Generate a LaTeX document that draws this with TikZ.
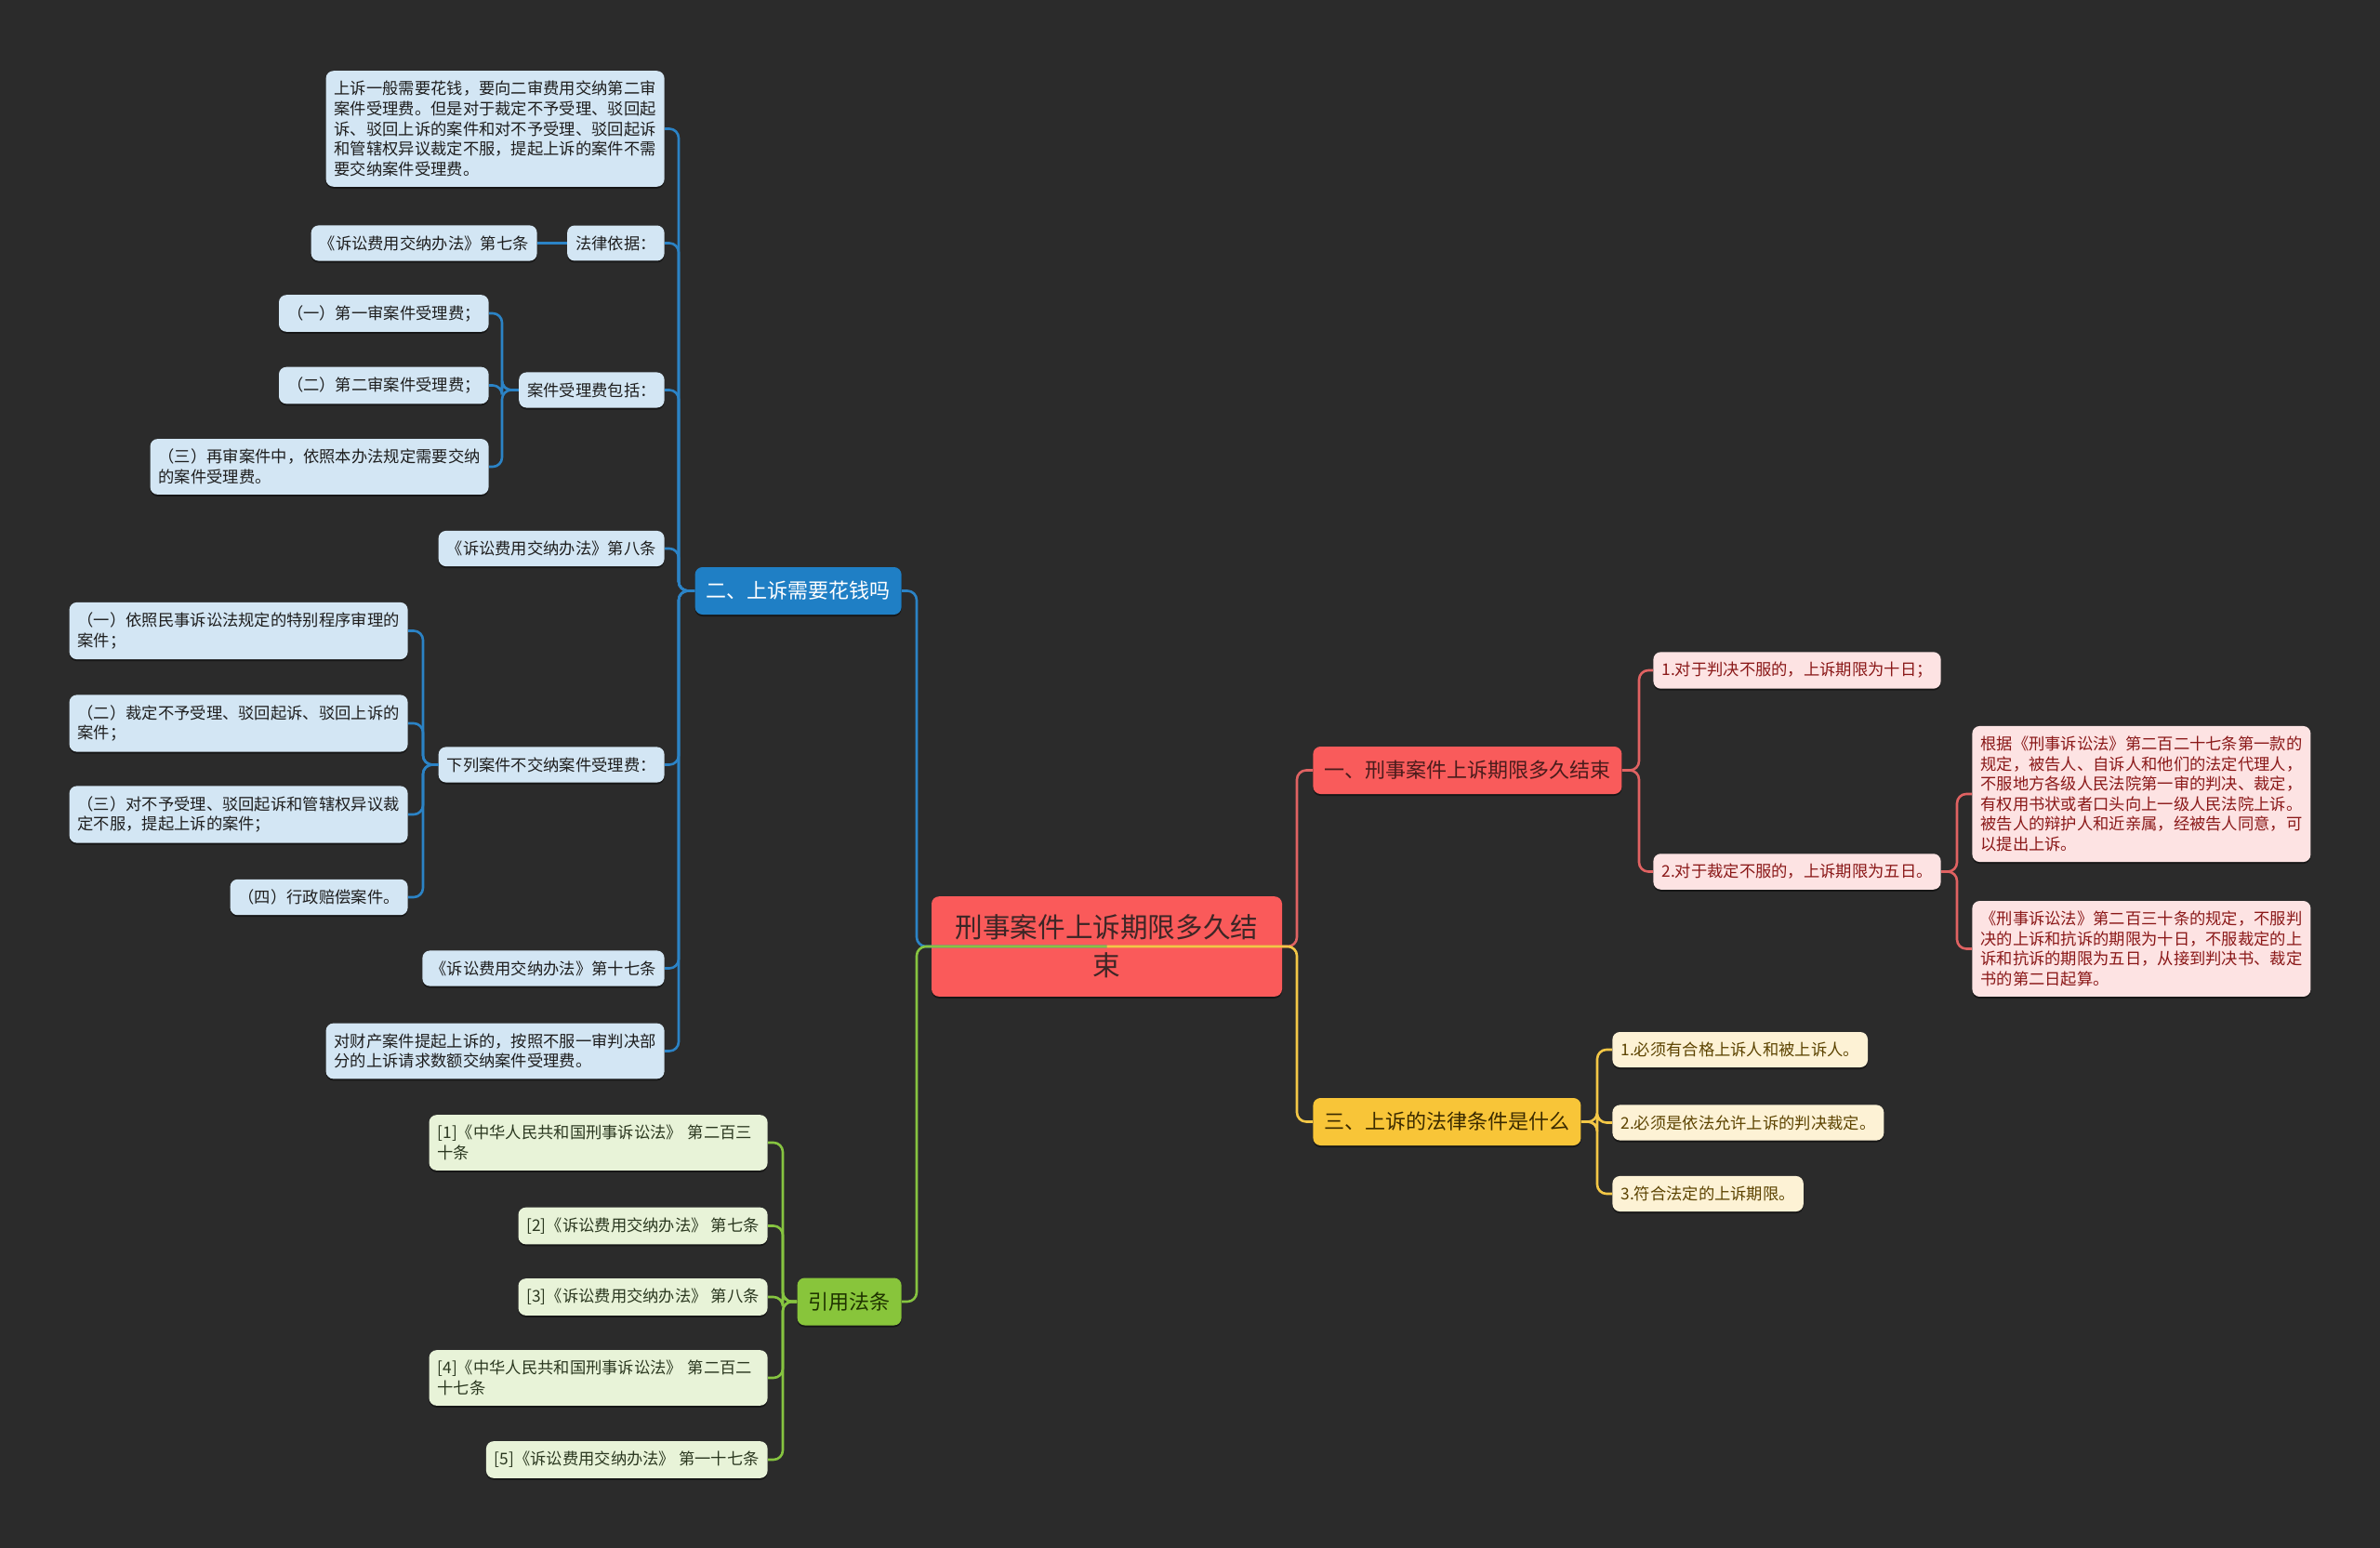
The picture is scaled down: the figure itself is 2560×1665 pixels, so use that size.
\documentclass[tikz,border=0pt]{standalone}
\usepackage{fontspec}
\setmainfont{Noto Sans CJK SC}
\usetikzlibrary{shadows}

\definecolor{bgc}{HTML}{2B2B2B}
\definecolor{centrec}{HTML}{FA5A5A}
\definecolor{centret}{HTML}{3D2626}
\definecolor{bheadc}{HTML}{1F7FC5}
\definecolor{blinec}{HTML}{2B83C6}
\definecolor{bleafc}{HTML}{D3E6F4}
\definecolor{bleaft}{HTML}{1E1E1E}
\definecolor{rheadc}{HTML}{F95B5B}
\definecolor{rheadt}{HTML}{4A1C1C}
\definecolor{rlinec}{HTML}{E06262}
\definecolor{rleafc}{HTML}{FDE3E3}
\definecolor{rleaft}{HTML}{8A1818}
\definecolor{yheadc}{HTML}{F8C538}
\definecolor{yheadt}{HTML}{3A2A00}
\definecolor{ylinec}{HTML}{F3C746}
\definecolor{yleafc}{HTML}{FDF2D5}
\definecolor{yleaft}{HTML}{5C4300}
\definecolor{gheadc}{HTML}{88C53B}
\definecolor{gheadt}{HTML}{1F3300}
\definecolor{glinec}{HTML}{86C440}
\definecolor{gleafc}{HTML}{E8F3D8}
\definecolor{gleaft}{HTML}{2B3820}

\begin{document}
\begin{tikzpicture}[x=0.5pt,y=-0.5pt,
    shade/.style={drop shadow={shadow xshift=0pt,shadow yshift=-1pt,fill=black,opacity=0.45}},
    leaf/.style={shade,rounded corners=4pt,inner xsep=4.5pt,inner ysep=5.5pt,align=left,
        font=\fontsize{8.65}{10.8}\selectfont},
    bleaf/.style={leaf,fill=bleafc,text=bleaft},
    rleaf/.style={leaf,fill=rleafc,text=rleaft},
    yleaf/.style={leaf,fill=yleafc,text=yleaft},
    gleaf/.style={leaf,fill=gleafc,text=gleaft},
    head/.style={shade,rounded corners=4pt,inner xsep=6pt,inner ysep=4pt,minimum height=25.5pt,
        font=\fontsize{11}{13}\selectfont},
    link/.style={line width=1.3pt,rounded corners=5pt},
    bline/.style={link,draw=blinec},
    rline/.style={link,draw=rlinec},
    yline/.style={link,draw=ylinec},
    gline/.style={link,draw=glinec}]

    % Background
    \fill[bgc] (0,0) rectangle (2560,1665);
    \useasboundingbox (0,0) rectangle (2560,1665);

    % Centre topic
    \node[shade,fill=centrec,text=centret,rounded corners=4pt,align=center,inner xsep=12.75pt,
        inner ysep=9.8pt,minimum width=188.5pt,font=\fontsize{14.8}{20.5}\selectfont]
        (C) at (1190.5,1018) {刑事案件上诉期限多久结\\束};

    % Trunk positions
    \coordinate (lt) at (986,0);
    \coordinate (rt) at (1395,0);
    \coordinate (bt) at (730,0);
    \coordinate (b3t) at (540,0);
    \coordinate (b5t) at (455,0);
    \coordinate (r0t) at (1763,0);
    \coordinate (r2t) at (2105,0);
    \coordinate (y0t) at (1718,0);
    \coordinate (g0t) at (842,0);

    % Branch 2 (blue)
    \node[head,fill=bheadc,text=white,anchor=east] (B0) at (970,635.5) {二、上诉需要花钱吗};
    \node[bleaf,anchor=east] (b1) at (715,138.5) {上诉一般需要花钱，要向二审费用交纳第二审\\案件受理费。但是对于裁定不予受理、驳回起\\诉、驳回上诉的案件和对不予受理、驳回起诉\\和管辖权异议裁定不服，提起上诉的案件不需\\要交纳案件受理费。};
    \node[bleaf,anchor=east] (b2) at (715,261.5) {法律依据：};
    \node[bleaf,anchor=east] (b2a) at (578,261.5) {《诉讼费用交纳办法》第七条};
    \node[bleaf,anchor=east] (b3) at (715,419.5) {案件受理费包括：};
    \node[bleaf,anchor=east] (b3a) at (526,337) {（一）第一审案件受理费；};
    \node[bleaf,anchor=east] (b3b) at (526,414.5) {（二）第二审案件受理费；};
    \node[bleaf,anchor=east] (b3c) at (526,502) {（三）再审案件中，依照本办法规定需要交纳\\的案件受理费。};
    \node[bleaf,anchor=east] (b4) at (715,590) {《诉讼费用交纳办法》第八条};
    \node[bleaf,anchor=east] (b5) at (715,822.5) {下列案件不交纳案件受理费：};
    \node[bleaf,anchor=east] (b5a) at (439,678.5) {（一）依照民事诉讼法规定的特别程序审理的\\案件；};
    \node[bleaf,anchor=east] (b5b) at (439,778) {（二）裁定不予受理、驳回起诉、驳回上诉的\\案件；};
    \node[bleaf,anchor=east] (b5c) at (439,876) {（三）对不予受理、驳回起诉和管辖权异议裁\\定不服，提起上诉的案件；};
    \node[bleaf,anchor=east] (b5d) at (439,965) {（四）行政赔偿案件。};
    \node[bleaf,anchor=east] (b6) at (715,1041.5) {《诉讼费用交纳办法》第十七条};
    \node[bleaf,anchor=east] (b7) at (715,1130.5) {对财产案件提起上诉的，按照不服一审判决部\\分的上诉请求数额交纳案件受理费。};

    % Branch 1 (red)
    \node[head,fill=rheadc,text=rheadt,anchor=west] (R0) at (1412,828.5) {一、刑事案件上诉期限多久结束};
    \node[rleaf,anchor=west] (r1) at (1778,721) {1.对于判决不服的，上诉期限为十日；};
    \node[rleaf,anchor=west] (r2) at (1778,937.5) {2.对于裁定不服的，上诉期限为五日。};
    \node[rleaf,anchor=west] (r2a) at (2121,854) {根据《刑事诉讼法》第二百二十七条第一款的\\规定，被告人、自诉人和他们的法定代理人，\\不服地方各级人民法院第一审的判决、裁定，\\有权用书状或者口头向上一级人民法院上诉。\\被告人的辩护人和近亲属，经被告人同意，可\\以提出上诉。};
    \node[rleaf,anchor=west] (r2b) at (2121,1020.5) {《刑事诉讼法》第二百三十条的规定，不服判\\决的上诉和抗诉的期限为十日，不服裁定的上\\诉和抗诉的期限为五日，从接到判决书、裁定\\书的第二日起算。};

    % Branch 3 (yellow)
    \node[head,fill=yheadc,text=yheadt,anchor=west] (Y0) at (1412,1206.5) {三、上诉的法律条件是什么};
    \node[yleaf,anchor=west] (y1) at (1734,1129) {1.必须有合格上诉人和被上诉人。};
    \node[yleaf,anchor=west] (y2) at (1734,1207.5) {2.必须是依法允许上诉的判决裁定。};
    \node[yleaf,anchor=west] (y3) at (1734,1284) {3.符合法定的上诉期限。};

    % Citations (green)
    \node[head,fill=gheadc,text=gheadt,anchor=east] (G0) at (970,1400) {引用法条};
    \node[gleaf,anchor=east,text width=173pt] (g1) at (826,1229) {[1]《中华人民共和国刑事诉讼法》 第二百三\\十条};
    \node[gleaf,anchor=east] (g2) at (826,1318.5) {[2]《诉讼费用交纳办法》 第七条};
    \node[gleaf,anchor=east] (g3) at (826,1395) {[3]《诉讼费用交纳办法》 第八条};
    \node[gleaf,anchor=east,text width=173pt] (g4) at (826,1482) {[4]《中华人民共和国刑事诉讼法》 第二百二\\十七条};
    \node[gleaf,anchor=east] (g5) at (826,1570) {[5]《诉讼费用交纳办法》 第一十七条};

    % Draw connectors from the centre
    \draw[bline] (C.center) -- (lt |- C.center) |- (B0.east);
    \draw[rline] (C.center) -- (rt |- C.center) |- (R0.west);
    \draw[gline] (C.center) -- (lt |- C.center) |- (G0.east);
    \draw[yline] (C.center) -- (rt |- C.center) |- (Y0.west);

    % Draw blue connectors
    \draw[bline] (B0.west) -- (bt |- B0.west) |- (b1.east);
    \draw[bline] (B0.west) -- (bt |- B0.west) |- (b2.east);
    \draw[bline] (B0.west) -- (bt |- B0.west) |- (b3.east);
    \draw[bline] (B0.west) -- (bt |- B0.west) |- (b4.east);
    \draw[bline] (B0.west) -- (bt |- B0.west) |- (b5.east);
    \draw[bline] (B0.west) -- (bt |- B0.west) |- (b6.east);
    \draw[bline] (B0.west) -- (bt |- B0.west) |- (b7.east);
    \draw[bline] (b2.west) -- (b2a.east);
    \draw[bline] (b3.west) -- (b3t |- b3.west) |- (b3a.east);
    \draw[bline] (b3.west) -- (b3t |- b3.west) |- (b3b.east);
    \draw[bline] (b3.west) -- (b3t |- b3.west) |- (b3c.east);
    \draw[bline] (b5.west) -- (b5t |- b5.west) |- (b5a.east);
    \draw[bline] (b5.west) -- (b5t |- b5.west) |- (b5b.east);
    \draw[bline] (b5.west) -- (b5t |- b5.west) |- (b5c.east);
    \draw[bline] (b5.west) -- (b5t |- b5.west) |- (b5d.east);

    % Draw red connectors
    \draw[rline] (R0.east) -- (r0t |- R0.east) |- (r1.west);
    \draw[rline] (R0.east) -- (r0t |- R0.east) |- (r2.west);
    \draw[rline] (r2.east) -- (r2t |- r2.east) |- (r2a.west);
    \draw[rline] (r2.east) -- (r2t |- r2.east) |- (r2b.west);

    % Draw yellow connectors
    \draw[yline] (Y0.east) -- (y0t |- Y0.east) |- (y1.west);
    \draw[yline] (Y0.east) -- (y0t |- Y0.east) |- (y2.west);
    \draw[yline] (Y0.east) -- (y0t |- Y0.east) |- (y3.west);

    % Draw green connectors
    \draw[gline] (G0.west) -- (g0t |- G0.west) |- (g1.east);
    \draw[gline] (G0.west) -- (g0t |- G0.west) |- (g2.east);
    \draw[gline] (G0.west) -- (g0t |- G0.west) |- (g3.east);
    \draw[gline] (G0.west) -- (g0t |- G0.west) |- (g4.east);
    \draw[gline] (G0.west) -- (g0t |- G0.west) |- (g5.east);
\end{tikzpicture}
\end{document}
